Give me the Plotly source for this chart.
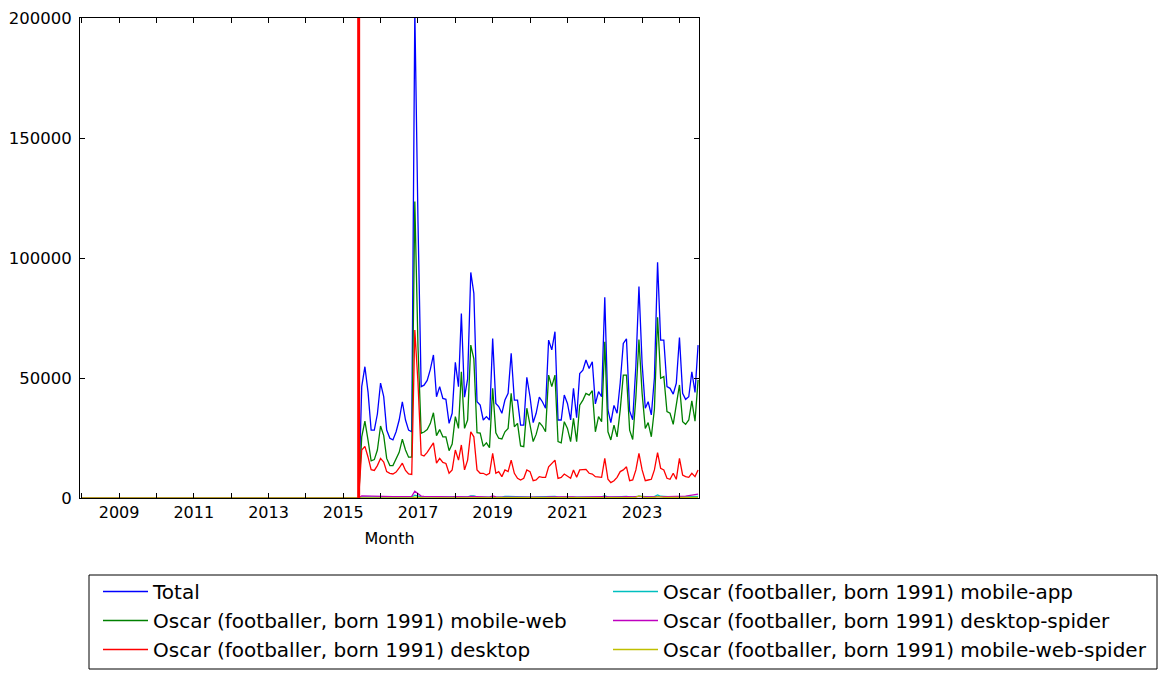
import pandas as pd
import plotly.graph_objects as go

# Monthly dates shown on the axis (Jan 2008 .. Jul 2024)
MONTHS = pd.date_range("2008-01-01", "2024-07-01", freq="MS")
# months before the pageview API data (Jan 2008 .. Jun 2015) read as zero
N_ZERO_MONTHS = 90
ZERO = 0

# Values from Jul 2015 to Jul 2024
TOTAL = [
    46400, 54700, 44000, 28300, 28300, 35000, 47900, 42200, 28300, 24900,
    24200, 27600, 32500, 40100, 32500, 28300, 27600, 203000, 115000, 46400,
    47000, 49000, 53500, 59600, 42200, 46400, 41500, 41100, 31100, 35300,
    56500, 46400, 76900, 42000, 49500, 94000, 85300, 40100, 38700, 32500,
    33900, 32500, 66400, 39400, 38100, 35300, 40800, 43600, 60300, 40800,
    40800, 30400, 30400, 50300, 42200, 31400, 35300, 42000, 40100, 37400,
    65800, 61700, 69300, 32500, 32500, 42900, 39400, 32500, 45700, 33500,
    51900, 53300, 57500, 54000, 56800, 39200, 44300, 42200, 83600, 36700,
    31400, 38600, 35300, 48000, 64400, 66300, 36300, 32600, 55000, 88100,
    56000, 37400, 40100, 34600, 50000, 98200, 65800, 65800, 46400, 45700,
    43300, 47800, 66900, 43600, 41100, 42200, 52600, 44000, 63700,
]
MOBILE_WEB = [
    25500, 32000, 24000, 15500, 16000, 20000, 30000, 26000, 16500, 13500,
    13500, 16000, 19000, 24500, 20000, 17000, 17000, 123500, 63000, 27000,
    27500, 28500, 31000, 35500, 26000, 28500, 25500, 25500, 19700, 22500,
    33900, 29000, 52600, 29000, 32500, 63700, 58000, 27200, 27000, 21500,
    23000, 21000, 45700, 27200, 24900, 24600, 27600, 29000, 43600, 29700,
    31100, 21700, 21400, 37400, 29700, 23500, 26500, 31500, 30000, 27600,
    51200, 46400, 51200, 23500, 23000, 31800, 29000, 23500, 33200, 23500,
    38700, 40800, 43600, 42900, 44700, 27600, 33900, 31800, 65100, 27600,
    24200, 30400, 25500, 36700, 51200, 51200, 28300, 24400, 42000, 66000,
    43600, 29000, 31400, 25500, 37000, 75300, 49900, 50600, 36000, 35300,
    30700, 38000, 47100, 31800, 30700, 32500, 40500, 32000, 49200,
]
DESKTOP = [
    20000, 21500, 17000, 11800, 11500, 13500, 16500, 15000, 11000, 10300,
    10000, 10800, 12500, 14500, 11500, 10000, 9800, 70000, 48000, 18000,
    17500, 19000, 21000, 23000, 14500, 16500, 14800, 14400, 10300, 11700,
    20000, 15800, 22100, 11700, 15800, 27600, 25500, 11700, 10300, 10300,
    9600, 10300, 18600, 10300, 11000, 8900, 11700, 11000, 15800, 10300,
    8200, 7500, 8200, 11700, 11000, 7200, 7500, 8900, 8600, 8600,
    13000, 14200, 15800, 8200, 8600, 10000, 9200, 8200, 11700, 8600,
    11700, 11700, 11900, 10300, 10000, 8900, 8600, 8600, 16500, 7800,
    6400, 7200, 8600, 11000, 11700, 13000, 7200, 7500, 11700, 18600,
    11700, 7200, 7500, 7800, 11700, 18900, 12400, 11700, 8200, 7800,
    10300, 7800, 16500, 9600, 8900, 8600, 10300, 8900, 11700,
]
MOBILE_APP = [
    400, 450, 420, 350, 360, 380, 450, 420, 360, 330, 320, 340, 360, 420, 380, 350, 340,
    1200, 800,
    420, 430, 450, 470, 500, 380, 420, 400, 390, 330, 360, 520, 450, 700, 420, 500, 900,
    850,
    420, 400, 360, 370, 360, 600, 420, 420, 400, 700, 650, 600, 450, 450, 380, 380, 520,
    450, 380, 420, 450, 440, 420, 620, 600, 650, 380, 380, 450, 430, 380, 480, 380, 520,
    540, 560, 520, 600, 420, 500, 480, 950, 420, 380, 450,
    420, 520, 650, 660, 420, 400, 560, 800, 600, 430, 450, 420, 560, 1300, 720, 700, 520,
    500, 480, 520, 650, 480, 460, 470, 560, 500, 650,
]
DESKTOP_SPIDER = [
    900, 850, 750, 650, 600, 650, 700, 650, 600, 550, 550, 580, 600, 650, 600, 580, 700,
    2800, 1800,
    800, 700, 650, 650, 600, 550, 550, 520, 500, 450, 480, 550, 500, 600, 450, 500, 700,
    650,
    420, 400, 380, 380, 400, 900, 450, 400, 380, 420, 450, 500, 400, 380, 350, 350, 450,
    400, 350, 380, 420, 400, 380, 450, 480, 500, 380, 400, 420, 400, 380, 450, 380, 420,
    450, 480, 450, 500, 450, 700, 800, 600, 450, 420, 450,
    450, 500, 550, 600, 450, 500, 550, 650, 550, 450, 500, 480, 550, 750, 600, 600, 550,
    550, 600, 650, 700, 750, 800, 1000, 1300, 1500, 1600,
]
MOBILE_WEB_SPIDER = [
    50, 60, 60, 50, 50, 60, 70, 60, 50, 50, 50, 50, 60, 60, 50, 50, 60,
    400, 200,
    80, 80, 80, 90, 100, 80, 80, 80, 80, 70, 70, 100, 90, 150, 80, 100, 200,
    180,
    90, 90, 80, 80, 80, 150, 90, 90, 80, 90, 100, 150, 100, 100, 80, 80, 120,
    100, 80, 90, 100, 100, 90, 160, 150, 170, 80, 80, 100, 100, 80, 110, 80, 130,
    140, 150, 140, 150, 100, 120, 110, 250, 100, 90, 110,
    100, 140, 180, 180, 100, 100, 300, 900, 400, 150, 150, 120, 200, 600, 300, 280, 200,
    180, 170, 180, 250, 170, 160, 170, 250, 200, 300,
]

MARKER_DATE = "2015-06-01"
X_RANGE = ["2007-12-16", "2024-07-10"]

SERIES = [
    ("Total", TOTAL, "#0000ff", "legend", 1),
    ("Oscar (footballer, born 1991) mobile-web", MOBILE_WEB, "#008000", "legend", 2),
    ("Oscar (footballer, born 1991) desktop", DESKTOP, "#ff0000", "legend", 3),
    ("Oscar (footballer, born 1991) mobile-app", MOBILE_APP, "#00bfbf", "legend2", 4),
    ("Oscar (footballer, born 1991) desktop-spider", DESKTOP_SPIDER, "#bf00bf", "legend2", 5),
    ("Oscar (footballer, born 1991) mobile-web-spider", MOBILE_WEB_SPIDER, "#bfbf00", "legend2", 6),
]

FONT = "DejaVu Sans"

fig = go.Figure()
for name, vals, color, leg, rank in SERIES:
    y = [ZERO] * N_ZERO_MONTHS + list(vals)
    fig.add_trace(go.Scatter(
        x=MONTHS[:len(y)], y=y, mode="lines", name=name,
        line=dict(color=color, width=1.3), legend=leg, legendrank=rank,
    ))

W, H = 1166, 679
L, R, T, B = 80, 467, 18, 181
pw, ph = W - L - R, H - T - B

def px_x(px):
    return (px - L) / pw

def px_y(py):
    return (H - B - py) / ph

fig.add_shape(type="line", xref="x", yref="paper", x0=MARKER_DATE, x1=MARKER_DATE,
              y0=0, y1=1, line=dict(color="#ff0000", width=3), layer="above")
fig.add_shape(type="rect", xref="paper", yref="paper",
              x0=px_x(89), x1=px_x(1157), y0=px_y(575), y1=px_y(669),
              line=dict(color="black", width=1), fillcolor="rgba(0,0,0,0)")

legend_common = dict(
    orientation="v", xanchor="left", yanchor="top",
    font=dict(family=FONT, size=20, color="black"),
    bgcolor="rgba(0,0,0,0)", borderwidth=0, itemwidth=45,
)

fig.update_layout(
    width=W, height=H,
    margin=dict(l=L, r=R, t=T, b=B, autoexpand=False),
    paper_bgcolor="white", plot_bgcolor="white",
    font=dict(family=FONT, size=16, color="black"),
    legend=dict(x=px_x(98), y=px_y(572), **legend_common),
    legend2=dict(x=px_x(608), y=px_y(572), **legend_common),
    xaxis=dict(
        type="date", range=X_RANGE,
        showline=True, linecolor="black", linewidth=1, mirror="allticks",
        ticks="inside", ticklen=5, tickcolor="black", tickwidth=1,
        tick0="2009-01-01", dtick="M24", tickformat="%Y",
        showgrid=False, zeroline=False,
        minor=dict(tick0="2008-01-01", dtick="M12", ticks="inside", ticklen=5,
                   tickcolor="black", tickwidth=1, showgrid=False),
        tickfont=dict(family=FONT, size=16),
        title=dict(text="Month", font=dict(family=FONT, size=16), standoff=11),
    ),
    yaxis=dict(
        range=[0, 200000], dtick=50000, tickformat="d",
        showline=True, linecolor="black", linewidth=1, mirror="allticks",
        ticks="inside", ticklen=5, tickcolor="black", tickwidth=1,
        showgrid=False, zeroline=False, ticklabelstandoff=4,
        tickfont=dict(family=FONT, size=16.5),
    ),
)

fig.write_html("out.html")
